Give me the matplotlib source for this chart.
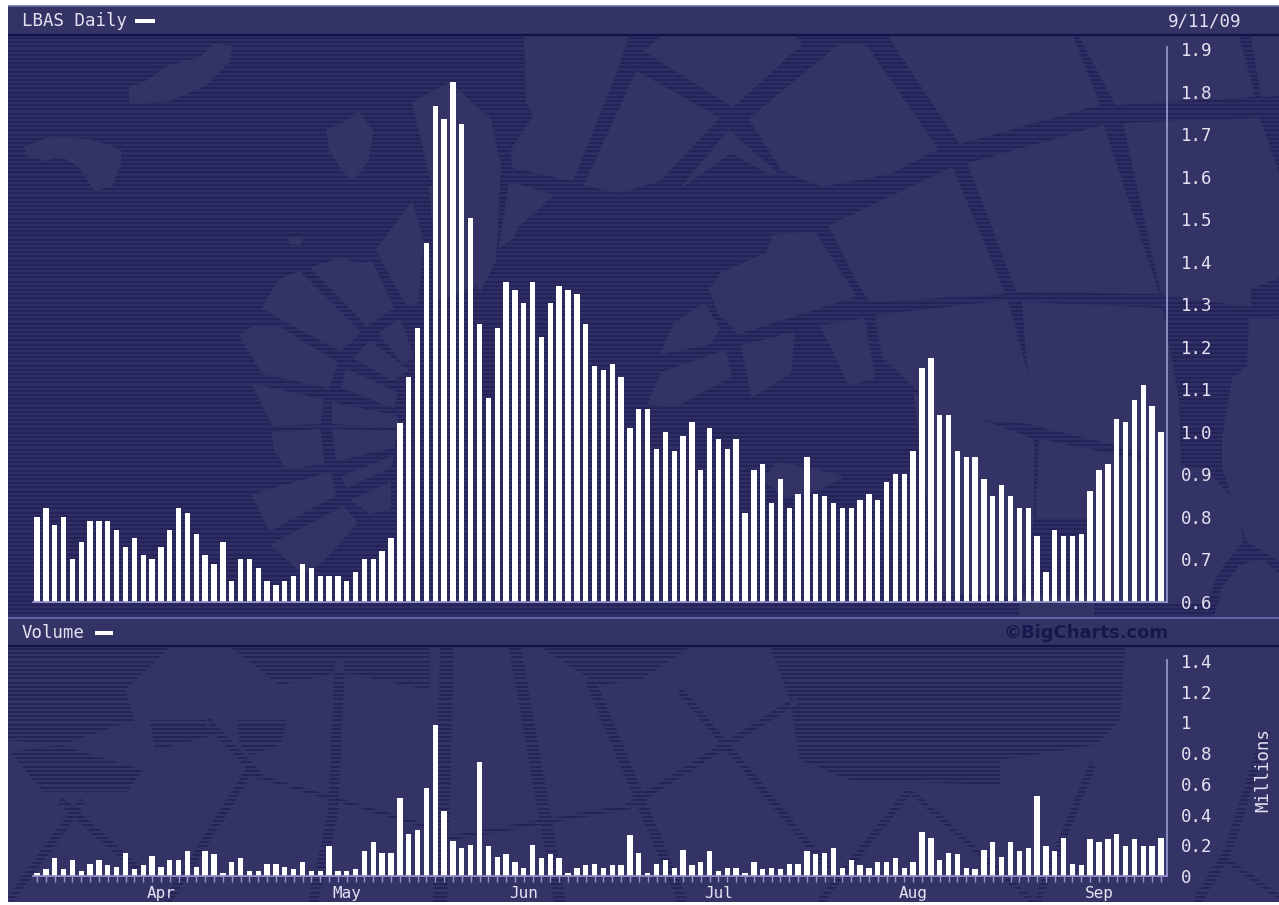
import numpy as np
import matplotlib
matplotlib.use("Agg")
import matplotlib.pyplot as plt
from matplotlib.patches import Polygon, PathPatch
from matplotlib.path import Path

# ---------- data ----------
price = [0.80, 0.82, 0.78, 0.80, 0.70, 0.74, 0.79, 0.79, 0.79, 0.77, 0.73, 0.75, 0.71, 0.70, 0.73, 0.77,
         0.82, 0.81, 0.76, 0.71, 0.69, 0.74, 0.65, 0.70, 0.70, 0.68, 0.65, 0.64, 0.65, 0.66, 0.69, 0.68,
         0.66, 0.66, 0.66, 0.65, 0.67, 0.70, 0.70, 0.72, 0.75, 1.02, 1.13, 1.245, 1.445, 1.765, 1.735, 1.823,
         1.723, 1.503, 1.253, 1.08, 1.245, 1.353, 1.333, 1.303, 1.353, 1.224, 1.303, 1.344, 1.333, 1.324, 1.253, 1.154,
         1.145, 1.16, 1.13, 1.01, 1.053, 1.053, 0.96, 1.00, 0.954, 0.99, 1.024, 0.91, 1.01, 0.983, 0.96, 0.983,
         0.81, 0.91, 0.924, 0.833, 0.89, 0.82, 0.853, 0.94, 0.853, 0.85, 0.833, 0.82, 0.82, 0.84, 0.853, 0.84,
         0.882, 0.90, 0.90, 0.954, 1.15, 1.174, 1.04, 1.04, 0.954, 0.94, 0.94, 0.89, 0.85, 0.875, 0.85, 0.82,
         0.82, 0.755, 0.67, 0.77, 0.755, 0.755, 0.76, 0.86, 0.91, 0.925, 1.03, 1.024, 1.075, 1.11, 1.06, 1.00]
volume = [0.02, 0.045, 0.115, 0.045, 0.105, 0.035, 0.08, 0.105, 0.07, 0.06, 0.15, 0.045, 0.07, 0.13, 0.06, 0.105,
          0.105, 0.16, 0.06, 0.16, 0.14, 0.02, 0.09, 0.115, 0.035, 0.035, 0.08, 0.08, 0.06, 0.045, 0.09, 0.035,
          0.035, 0.195, 0.035, 0.035, 0.045, 0.16, 0.22, 0.15, 0.15, 0.505, 0.275, 0.30, 0.575, 0.98, 0.425, 0.23,
          0.185, 0.205, 0.745, 0.195, 0.125, 0.145, 0.09, 0.055, 0.205, 0.115, 0.14, 0.115, 0.02, 0.055, 0.07, 0.08,
          0.055, 0.07, 0.07, 0.265, 0.15, 0.02, 0.08, 0.105, 0.055, 0.17, 0.07, 0.09, 0.16, 0.035, 0.055, 0.055,
          0.02, 0.09, 0.045, 0.055, 0.045, 0.08, 0.08, 0.16, 0.14, 0.15, 0.185, 0.055, 0.105, 0.07, 0.055, 0.09,
          0.09, 0.115, 0.055, 0.09, 0.285, 0.25, 0.105, 0.15, 0.14, 0.055, 0.045, 0.17, 0.22, 0.125, 0.22, 0.16,
          0.185, 0.52, 0.195, 0.16, 0.25, 0.08, 0.07, 0.24, 0.22, 0.24, 0.275, 0.195, 0.24, 0.195, 0.195, 0.25]
month_labels = ["Apr", "May", "Jun", "Jul", "Aug", "Sep"]
month_index = [14, 35, 55, 77, 99, 120]
price_ticks = [0.6, 0.7, 0.8, 0.9, 1.0, 1.1, 1.2, 1.3, 1.4, 1.5, 1.6, 1.7, 1.8, 1.9]
price_tick_labels = ["0.6", "0.7", "0.8", "0.9", "1.0", "1.1", "1.2", "1.3", "1.4", "1.5", "1.6", "1.7", "1.8", "1.9"]
vol_ticks = [0, 0.2, 0.4, 0.6, 0.8, 1.0, 1.2, 1.4]
vol_tick_labels = ["0", "0.2", "0.4", "0.6", "0.8", "1", "1.2", "1.4"]

# ---------- style ----------
W, H = 1279, 905
LAND = "#333366"
SEA = "#2e2e64"
STRIPE = "#212156"
AXIS = "#9494cc"
TXT = "#e2e2f2"
MONO = "DejaVu Sans Mono"

fig = plt.figure(figsize=(W / 100, H / 100), dpi=100, facecolor="white")


def rect(px0, py0, px1, py1):
    return [px0 / W, 1 - py1 / H, (px1 - px0) / W, (py1 - py0) / H]


# ---------- decorative map background, in pixels ----------
bg = fig.add_axes([0, 0, 1, 1], zorder=0)
bg.set_xlim(0, W)
bg.set_ylim(H, 0)
bg.axis("off")
PANEL_L, PANEL_B = 8, 902
bg.fill_between([PANEL_L, W], 6, PANEL_B, color=LAND, lw=0, zorder=1)
bg.fill_between([PANEL_L, W], 36, 617, color=SEA, lw=0, zorder=1)
bg.hlines(np.arange(38, 617, 4.2), PANEL_L, W, color=STRIPE, lw=1.2, zorder=1)

price_land = [
    [(130, 88), (150, 80), (165, 68), (200, 58), (215, 44), (232, 47), (228, 62), (205, 85), (170, 100), (130, 103)],
    [(25, 147), (50, 138), (90, 140), (120, 150), (120, 162), (112, 185), (95, 190), (78, 165), (60, 155), (45, 160), (28, 155)],
    [(327, 130), (350, 120), (358, 113), (372, 130), (368, 160), (352, 180), (340, 165), (330, 150)],
    [(290, 238), (302, 238), (300, 244), (290, 243)],
    [(525, 36), (628, 36), (617, 70), (572, 180), (513, 167), (512, 150), (535, 115), (527, 103)],
    [(645, 51), (662, 37), (795, 37), (801, 44), (733, 106)],
    [(637, 72), (718, 118), (660, 180), (620, 192), (585, 185)],
    [(683, 186), (729, 131), (776, 173), (770, 174), (731, 152), (691, 180)],
    [(750, 119), (838, 46), (866, 46), (937, 149), (889, 173), (822, 186), (782, 169)],
    [(889, 36), (1072, 36), (1099, 104), (960, 143)],
    [(1080, 36), (1238, 36), (1254, 96), (1116, 104)],
    [(1252, 36), (1279, 36), (1279, 95), (1262, 96)],
    [(969, 164), (1103, 126), (1158, 293), (1017, 291)],
    [(1124, 124), (1259, 119), (1279, 176), (1279, 276), (1250, 289), (1250, 306), (1175, 296), (1162, 293)],
    [(830, 226), (952, 168), (1004, 293), (870, 301), (851, 269)],
    [(710, 289), (721, 274), (767, 253), (773, 236), (815, 233), (855, 296), (738, 333), (719, 313)],
    [(662, 353), (675, 323), (704, 304), (719, 329), (708, 344)],
    [(649, 403), (662, 373), (725, 351), (731, 376), (675, 406)],
    [(742, 346), (794, 333), (790, 373), (752, 396)],
    [(822, 326), (864, 319), (874, 378), (849, 384)],
    [(876, 316), (1007, 301), (1040, 424), (952, 416), (914, 386), (883, 356)],
    [(1023, 303), (1162, 309), (1178, 400), (1180, 470), (1113, 443), (1033, 425)],
    [(1040, 440), (1113, 455), (1205, 470), (1233, 500), (1243, 540), (1217, 573), (1207, 603), (1093, 603), (1093, 517), (1037, 517)],
    [(1020, 597), (1093, 597), (1093, 617), (1020, 617)],
    [(1250, 319), (1279, 320), (1279, 560), (1247, 540), (1223, 467), (1223, 437), (1233, 379), (1248, 366)],
    [(1240, 566), (1262, 560), (1279, 575), (1279, 617), (1215, 617), (1222, 590)],
    [(915, 395), (1033, 440), (1033, 517), (1020, 597), (940, 590), (925, 480)],
    [(763, 480), (777, 463), (813, 470), (843, 477), (817, 490), (787, 497)],
    [(413, 103), (450, 83), (490, 120), (500, 165), (495, 260), (480, 290), (470, 250), (430, 175)],
    [(430, 187), (493, 180), (483, 270), (473, 287), (440, 300)],
    [(510, 183), (553, 195), (517, 227), (513, 237), (500, 247)],
    [(263, 308), (280, 280), (300, 272), (360, 333), (340, 350), (297, 327)],
    [(312, 268), (343, 258), (358, 265), (372, 262), (393, 308), (367, 325)],
    [(377, 250), (412, 203), (423, 243), (417, 303), (407, 305)],
    [(240, 335), (253, 327), (280, 328), (337, 363), (328, 387), (263, 373)],
    [(380, 333), (400, 320), (413, 357), (403, 363)],
    [(355, 358), (370, 342), (407, 370), (393, 380)],
    [(253, 385), (323, 400), (320, 423), (273, 425)],
    [(342, 387), (347, 370), (397, 393), (393, 407)],
    [(333, 403), (397, 417), (397, 427), (333, 423)],
    [(273, 433), (320, 430), (323, 463), (287, 468), (275, 450)],
    [(333, 430), (397, 432), (393, 447), (337, 460)],
    [(342, 477), (393, 457), (390, 467), (347, 487)],
    [(253, 495), (330, 473), (335, 495), (270, 530)],
    [(353, 500), (390, 483), (390, 507), (370, 513)],
    [(272, 545), (343, 507), (357, 523), (323, 560), (303, 573)],
]
for poly in price_land:
    bg.add_patch(Polygon(poly, closed=True, fc=LAND, ec=LAND, lw=1.5, joinstyle="round", zorder=1))

# volume panel: striped sea areas and thick graticule bands on plain land
vol_sea = [
    [(8, 647), (170, 647), (125, 690), (135, 720), (60, 745), (8, 740)],
    [(10, 752), (60, 745), (143, 770), (127, 792), (43, 792)],
    [(150, 720), (207, 720), (215, 735), (155, 750)],
    [(237, 720), (287, 720), (280, 745), (250, 755), (240, 745)],
    [(770, 647), (1125, 647), (1120, 720), (1095, 745), (1000, 760), (1000, 785), (850, 780), (800, 760), (790, 700)],
    [(230, 647), (430, 647), (430, 690), (340, 672), (280, 685)],
    [(540, 647), (690, 647), (640, 680), (600, 685)],
]
vol_bands = [
    (447, 647, 440, 902, 14), (515, 647, 560, 902, 12), (590, 680, 683, 902, 10),
    (680, 690, 830, 870, 7), (797, 700, 627, 807, 7), (627, 807, 440, 840, 5),
    (83, 800, 10, 900, 8), (60, 800, 147, 877, 8), (250, 770, 167, 902, 8),
    (207, 720, 260, 777, 8), (260, 777, 430, 827, 4), (333, 813, 313, 902, 10),
    (340, 660, 333, 813, 10), (910, 790, 820, 902, 7), (913, 793, 1033, 902, 5),
    (1093, 763, 1037, 902, 7), (1267, 730, 1227, 853, 8), (1227, 853, 1197, 902, 9),
    (1227, 860, 1279, 897, 5),
]
verts, codes = [], []
for poly in vol_sea:
    verts += poly + [poly[0]]
    codes += [Path.MOVETO] + [Path.LINETO] * (len(poly) - 1) + [Path.CLOSEPOLY]
for x0, y0, x1, y1, w in vol_bands:
    d = np.array([x1 - x0, y1 - y0], float)
    n = np.array([-d[1], d[0]]) / np.hypot(*d) * w / 2
    corners = [(x0 + n[0], y0 + n[1]), (x1 + n[0], y1 + n[1]), (x1 - n[0], y1 - n[1]), (x0 - n[0], y0 - n[1])]
    verts += corners + [corners[0]]
    codes += [Path.MOVETO, Path.LINETO, Path.LINETO, Path.LINETO, Path.CLOSEPOLY]
sea_path = Path(verts, codes)
clip = PathPatch(sea_path, fc=LAND, ec="none", zorder=1)
bg.add_patch(clip)
bg.hlines(np.arange(649, PANEL_B, 4.2), PANEL_L, W, color=STRIPE, lw=1.2, clip_path=clip, zorder=1)

# header bands, rules and tidy edges
bg.fill_between([PANEL_L, W], 6, 34.5, color=LAND, lw=0, zorder=3)
bg.fill_between([PANEL_L, W], 618, 645.5, color=LAND, lw=0, zorder=3)
bg.fill_between([0, W], PANEL_B, H, color="white", lw=0, zorder=3)
bg.fill_between([0, PANEL_L], 0, H, color="white", lw=0, zorder=3)
bg.hlines([35, 646], PANEL_L, W, color="#12124a", lw=1.6, zorder=4)
bg.hlines([6.5, 618], PANEL_L, W, color="#6c6cac", lw=1.2, zorder=4)
bg.add_patch(Polygon([(135, 19), (155, 19), (155, 23), (135, 23)], fc="white", ec="none", zorder=5))
bg.add_patch(Polygon([(95, 631), (113, 631), (113, 635), (95, 635)], fc="white", ec="none", zorder=5))

# ---------- charts ----------
x = np.arange(len(price))
PX0, PITCH = 37.0, 8.85
AX_L, AX_R = 33, 1167
xlim = ((AX_L - PX0) / PITCH, (AX_R - PX0) / PITCH)

ax = fig.add_axes(rect(AX_L, 47, AX_R, 602), zorder=2)
ax.patch.set_alpha(0)
ax.bar(x, price, width=0.6, color="white", linewidth=0)
ax.set_xlim(*xlim)
ax.set_ylim(0.6, 1.9 + 2 / 425)
ax.set_xticks([])
ax.yaxis.tick_right()
ax.set_yticks(price_ticks, price_tick_labels, family=MONO, fontsize=12.5, color=TXT)
ax.tick_params(axis="y", length=0, pad=10)

av = fig.add_axes(rect(AX_L, 660, AX_R, 876), zorder=2)
av.patch.set_alpha(0)
av.bar(x, volume, width=0.6, color="white", linewidth=0)
av.set_xlim(*xlim)
av.set_ylim(0, 216 / 153.6)
av.yaxis.tick_right()
av.set_yticks(vol_ticks, vol_tick_labels, family=MONO, fontsize=12.5, color=TXT)
av.tick_params(axis="y", length=0, pad=10)
av.xaxis.remove_overlapping_locs = False
av.set_xticks(x)
av.set_xticklabels([])
av.tick_params(axis="x", which="major", length=4, width=1, color=AXIS)
av.set_xticks(month_index, month_labels, minor=True, family=MONO, fontsize=11.5, color=TXT)
av.tick_params(axis="x", which="minor", length=0, pad=7)

for a in (ax, av):
    for s in ("top", "left"):
        a.spines[s].set_visible(False)
    for s in ("right", "bottom"):
        a.spines[s].set_color(AXIS)
        a.spines[s].set_linewidth(1.3)

# ---------- texts ----------
def label(px, py, s, **kw):
    kw.setdefault("family", MONO)
    kw.setdefault("fontsize", 12.5)
    kw.setdefault("color", TXT)
    kw.setdefault("va", "center")
    fig.text(px / W, 1 - py / H, s, **kw)


label(22, 21, "LBAS Daily")
label(1168, 21, "9/11/09")
label(22, 633, "Volume")
label(1263, 770, "Millions", rotation=90, ha="center")
label(1004, 633, "\u00a9BigCharts.com", family="DejaVu Sans", fontweight="bold", fontsize=13, color="#17174e")

fig.savefig("out.png", dpi=100, facecolor="white")
